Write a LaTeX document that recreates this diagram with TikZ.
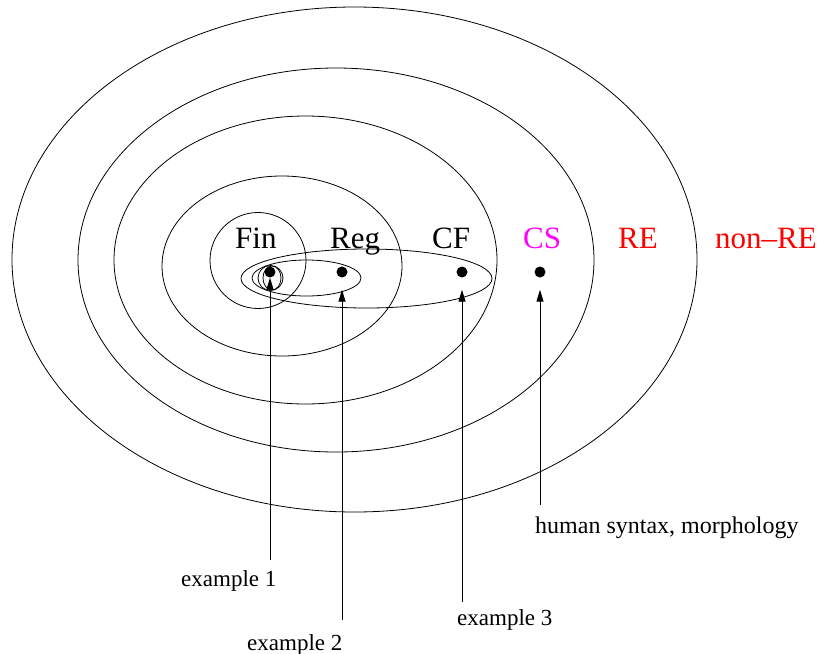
\documentclass[tikz,border=0pt]{standalone}
\usepackage{fontspec}
\setmainfont{Liberation Serif}
\usetikzlibrary{arrows.meta}
\definecolor{csmag}{RGB}{255,0,255}
\definecolor{rered}{RGB}{255,0,0}
\begin{document}
\begin{tikzpicture}[x=1pt,y=-1pt,
  setline/.style={draw=black,line width=0.8pt},
  dotnode/.style={circle,fill=black,inner sep=0pt,minimum size=11pt},
  arr/.style={line width=1pt,-{Triangle[length=12pt,width=7pt]}},
  biglabel/.style={anchor=base west,inner sep=0pt,font=\fontsize{31}{36}\selectfont},
  smalllabel/.style={anchor=base west,inner sep=0pt,font=\fontsize{23}{28}\selectfont}]
\useasboundingbox (0,0) rectangle (823,654);
% nested classes
\draw[setline] (354.5,259.5) ellipse [x radius=342.5pt, y radius=252.5pt];
\draw[setline] (336,260) ellipse [x radius=258pt, y radius=192pt];
\draw[setline] (305.5,260) ellipse [x radius=191.5pt, y radius=144pt];
\draw[setline] (282,266) ellipse [x radius=120pt, y radius=90pt];
\draw[setline] (258,260.5) circle [radius=48pt];
% language examples
\draw[setline] (366.5,278.5) ellipse [x radius=125.5pt, y radius=29.5pt];
\draw[setline] (306.5,278) ellipse [x radius=54.5pt, y radius=18pt];
\draw[setline] (270.5,278) ellipse [x radius=12.5pt, y radius=12.5pt];
\draw[setline] (272,278) ellipse [x radius=9pt, y radius=12pt];
% labels
\node[biglabel] (lfin) at (235,248) {Fin};
\node[biglabel] (lreg) at (330,248) {Reg};
\node[biglabel] (lcf) at (432,248) {CF};
\node[biglabel,text=csmag] (lcs) at (523,248) {CS};
\node[biglabel,text=rered] (lre) at (618,248) {RE};
\node[biglabel,text=rered] (lnre) at (715,248) {non--RE};
% dots
\node[dotnode] (d1) at (270,272) {};
\node[dotnode] (d2) at (342,272) {};
\node[dotnode] (d3) at (462,272) {};
\node[dotnode] (d4) at (540,272) {};
% example labels
\node[smalllabel] (ex1) at (181,586) {example 1};
\node[smalllabel] (ex2) at (247,650) {example 2};
\node[smalllabel] (ex3) at (457,625) {example 3};
\node[smalllabel,font=\fontsize{24}{29}\selectfont] (hum) at (535,533) {human syntax, morphology};
% arrow tails
\coordinate (b1) at (270,560);
\coordinate (b2) at (342,620);
\coordinate (b3) at (462,602);
\coordinate (b4) at (540,505);
\draw[arr] (b1) -- (d1.south);
\draw[arr,shorten >=12pt] (b2) -- (d2.south);
\draw[arr,shorten >=12pt] (b3) -- (d3.south);
\draw[arr,shorten >=12pt] (b4) -- (d4.south);
\end{tikzpicture}
\end{document}
